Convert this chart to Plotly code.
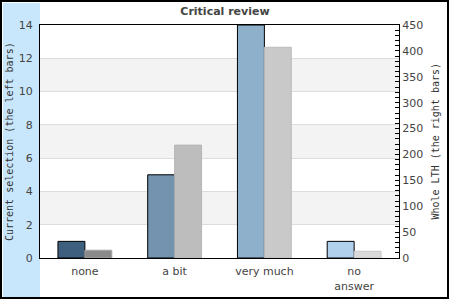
import plotly.graph_objects as go

categories = ["none", "a bit", "very much", "no<br>answer"]
current_selection = [1, 5, 14, 1]
whole_lth = [15, 218, 407, 13]
left_ticks = [0, 2, 4, 6, 8, 10, 12, 14]
right_ticks = [0, 50, 100, 150, 200, 250, 300, 350, 400, 450]

left_colors = ["#3f5f7f", "#7393ae", "#8fb0cb", "#b0d0eb"]
right_colors = ["#8a8a8a", "#bdbdbd", "#c9c9c9", "#dadada"]
right_lines = ["#a6a6a6", "#b6b6b6", "#bcbcbc", "#c6c6c6"]

W, H = 450, 300
L, R, T, B = 40, 51, 25, 42
pw, ph = W - L - R, H - T - B


def px(x):
    return (x - L) / pw


def py(y):
    return (H - B - y) / ph


fig = go.Figure()
fig.add_bar(x=categories, y=current_selection, yaxis="y", width=0.3, offset=-0.3,
            marker=dict(color=left_colors, line=dict(color="black", width=1)),
            showlegend=False)
fig.add_bar(x=categories, y=whole_lth, yaxis="y2", width=0.3, offset=0,
            marker=dict(color=right_colors, line=dict(color=right_lines, width=1)),
            showlegend=False)

shapes = []
# light blue panel behind left axis
shapes.append(dict(type="rect", xref="paper", yref="paper", x0=px(3), x1=px(40),
                   y0=py(297), y1=py(3), fillcolor="#c9e7fc", line=dict(width=0), layer="below"))
# alternating bands
for i in range(1, len(left_ticks) - 1, 2):
    shapes.append(dict(type="rect", xref="x domain", yref="y", x0=0, x1=1,
                       y0=left_ticks[i], y1=left_ticks[i + 1], fillcolor="#f3f3f3",
                       line=dict(width=0), layer="below"))
# outer border
shapes.append(dict(type="rect", xref="paper", yref="paper", x0=px(1), x1=px(448),
                   y0=py(298), y1=py(1), fillcolor="rgba(0,0,0,0)",
                   line=dict(color="black", width=2), layer="above"))

fig.update_layout(
    width=W, height=H,
    margin=dict(l=L, r=R, t=T, b=B, pad=0, autoexpand=False),
    paper_bgcolor="white", plot_bgcolor="rgba(0,0,0,0)",
    barmode="overlay",
    font=dict(family="DejaVu Sans", size=11, color="#444"),
    title=dict(text="<b>Critical review</b>", x=0.5, xanchor="center",
               y=1 - 11 / H, yanchor="middle",
               font=dict(family="DejaVu Sans", size=11, color="#444")),
    xaxis=dict(type="category", showline=True, linecolor="black", linewidth=1, mirror=True,
               ticks="outside", ticklen=3, tickcolor="rgba(0,0,0,0)", automargin=False,
               tickfont=dict(size=11, color="#444"), showgrid=False),
    yaxis=dict(range=[0, 14], tickvals=left_ticks, showline=True, linecolor="black",
               linewidth=1, mirror=True, ticks="outside", ticklen=4, automargin=False,
               tickcolor="rgba(0,0,0,0)", gridcolor="#dddddd", gridwidth=1,
               zeroline=False, tickfont=dict(size=11, color="#444")),
    yaxis2=dict(range=[0, 450], tickvals=right_ticks, overlaying="y", side="right",
                showline=True, linecolor="black", linewidth=1, ticks="inside",
                ticklen=4, tickcolor="black", showgrid=False, zeroline=False,
                automargin=False,
                minor=dict(dtick=10, ticks="inside", ticklen=4, tickcolor="black"),
                tickfont=dict(size=11, color="#444")),
    shapes=shapes,
    annotations=[
        dict(text="Current selection (the left bars)", xref="paper", yref="paper",
             x=px(9.5), y=0.5, xanchor="center", yanchor="middle", textangle=-90,
             showarrow=False, font=dict(family="DejaVu Sans Mono", size=10, color="#333")),
        dict(text="Whole LTH (the right bars)", xref="paper", yref="paper",
             x=px(435), y=0.5, xanchor="center", yanchor="middle", textangle=-90,
             showarrow=False, font=dict(family="DejaVu Sans Mono", size=10, color="#333")),
    ],
)

fig.write_html("out.html")
